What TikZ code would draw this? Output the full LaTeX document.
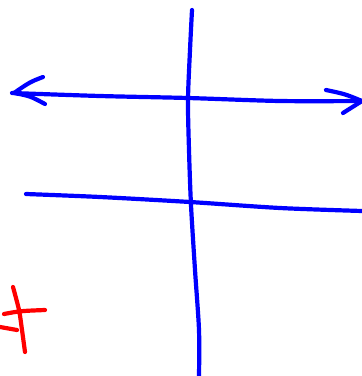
\documentclass[tikz,border=0pt]{standalone}
\begin{document}
\begin{tikzpicture}[x=1pt,y=-1pt,
  bluestroke/.style={draw=blue,line width=4.2pt,line cap=round,line join=round},
  redstroke/.style={draw=red,line width=4.2pt,line cap=round,line join=round}]
\useasboundingbox (0,0) rectangle (362,376);
% vertical line
\draw[bluestroke] plot[smooth] coordinates {(192,10) (190,50) (188,100) (189,150) (191,205) (195,270) (199,330) (199,376)};
% top horizontal double arrow
\draw[bluestroke] plot[smooth] coordinates {(12,93) (100,96) (188,98) (280,101) (362,101)};
\draw[bluestroke] (43,77) .. controls (30,82) .. (14,93) .. controls (30,96) .. (45,104);
\draw[bluestroke] (326,90) .. controls (345,94) .. (362,101) .. controls (352,107) .. (343,113);
% second horizontal line
\draw[bluestroke] plot[smooth] coordinates {(26,194) (100,197) (190,202) (280,208) (362,211)};
% red marks
\draw[redstroke] plot[smooth] coordinates {(13,287) (19,310) (22,330) (25,352)};
\draw[redstroke] (4,314) .. controls (20,311) .. (45,310);
\draw[redstroke] (0,327) -- (17,330);
\end{tikzpicture}
\end{document}
